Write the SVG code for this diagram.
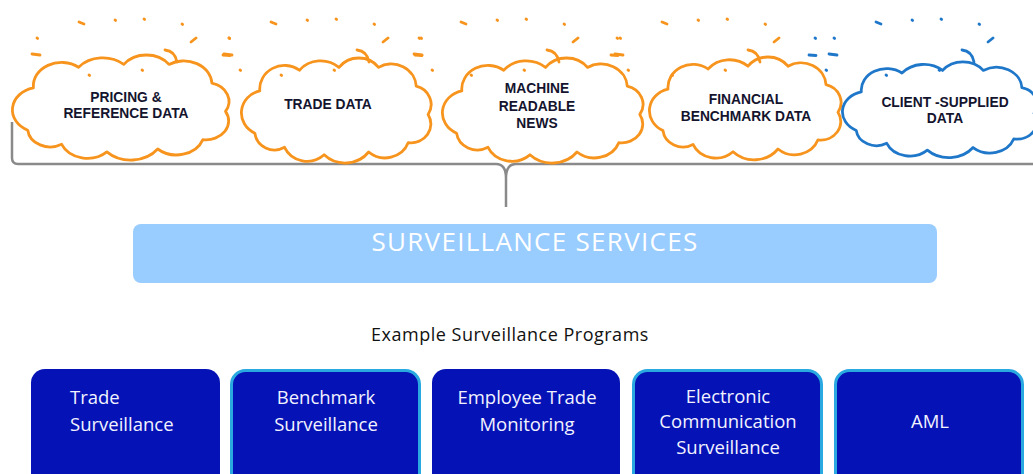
<svg xmlns="http://www.w3.org/2000/svg" xmlns:xlink="http://www.w3.org/1999/xlink" width="1033" height="474" viewBox="0 0 1033 474">
<style>
.cloud{fill:#fff;stroke-width:2.8;stroke-linejoin:round}
.orange{stroke:#F7941D;color:#F7941D}
.blue{stroke:#1F77C9;color:#1F77C9}
.mk{fill:none;stroke:currentColor;stroke-width:2.8;stroke-linecap:round}
.ctext{font-family:"Liberation Sans",Arial,sans-serif;font-weight:bold;font-size:13.8px;fill:#14142E;stroke:none;text-anchor:middle}
.box{fill:#0512B5}
.bord{stroke:#2AA9E0;stroke-width:3}
.btext{font-family:"Open Sans",sans-serif;font-size:18.5px;fill:#F2F2FF;text-anchor:middle}
.btext-l{font-family:"Open Sans",sans-serif;font-size:18.5px;fill:#F2F2FF;text-anchor:start}
.bracket{fill:none;stroke:#8A8A8A;stroke-width:2.5}
</style>
<defs>
<path id="cloudShape" vector-effect="non-scaling-stroke" d="M -80,-20 A 25,25 0 0 1 -40,-42 A 28,28 0 0 1 0,-45 A 25,25 0 0 1 40,-45 A 25,25 0 0 1 78,-25 A 20,20 0 0 1 90,5 A 20,20 0 0 1 70,35 A 25,25 0 0 1 30,45 A 30,30 0 0 1 -15,48 A 25,25 0 0 1 -55,40 A 20,20 0 0 1 -85,25 A 24,24 0 0 1 -80,-20 Z"/>
<g id="sparkMain" class="mk">
<path d="M79,22 L84,24"/>
<path d="M115,20 l0.6,0.4"/>
<path d="M144,19 l0.6,0.4"/>
<path d="M182,24 l0.6,0.4"/>
<path d="M191,42 L196,38"/>
<path d="M37,38 l0.6,0.4"/>
<path d="M32,54 L40,55"/>
<path d="M89,75 l0.6,0.4"/>
<path d="M142,70 l0.6,0.4"/>
<path d="M165,50 Q175,51 177,62"/>
</g>
<g id="sparkRight" class="mk">
<path d="M229,38 l0.6,0.4"/>
<path d="M223,55 L230,55.5"/>
<path d="M240,70 l0.6,0.4"/>
</g>
</defs>

<g id="connectors">
<path class="bracket" d="M 12,122 L 12,158 Q 12,164 18,164 L 496,164 Q 506,164 506,178 L 506,207 M 506,178 Q 506,164 516,164 L 1033,164"/>
</g>

<g id="cloud-pricing" class="orange">
<use href="#cloudShape" class="cloud" transform="translate(123.8,106.7) scale(1.13,0.94)"/>
<use href="#sparkMain"/>
<use href="#sparkRight"/>
<text class="ctext" x="126" y="102">PRICING &amp;</text>
<text class="ctext" x="126" y="118">REFERENCE DATA</text>
</g>

<g id="cloud-trade" class="orange">
<use href="#cloudShape" class="cloud" transform="translate(339,109.7) scale(0.99,0.94)"/>
<use href="#sparkMain" transform="translate(192,0)"/>
<use href="#sparkRight" transform="translate(192,0)"/>
<text class="ctext" x="328" y="109">TRADE DATA</text>
</g>

<g id="cloud-news" class="orange">
<use href="#cloudShape" class="cloud" transform="translate(545.6,109.7) scale(1.047,0.94)"/>
<use href="#sparkMain" transform="translate(382,0)"/>
<use href="#sparkRight" transform="translate(388,0)"/>
<text class="ctext" x="537" y="93">MACHINE</text>
<text class="ctext" x="537" y="111">READABLE</text>
<text class="ctext" x="537" y="128">NEWS</text>
</g>

<g id="cloud-benchmark" class="orange">
<use href="#cloudShape" class="cloud" transform="translate(748,107.6) scale(1.0,0.92)"/>
<use href="#sparkMain" transform="translate(583,0)"/>
<use href="#sparkRight" transform="translate(586,0)" style="color:#1F77C9"/>
<text class="ctext" x="746" y="104">FINANCIAL</text>
<text class="ctext" x="746" y="121">BENCHMARK DATA</text>
</g>

<g id="cloud-client" class="blue">
<use href="#cloudShape" class="cloud" transform="translate(942.6,109) scale(1.016,0.857)"/>
<use href="#sparkMain" transform="translate(797,0)"/>
<text class="ctext" x="945" y="107">CLIENT -SUPPLIED</text>
<text class="ctext" x="945" y="123">DATA</text>
</g>

<g id="surveillance-services">
<rect x="133" y="224" width="804" height="59" rx="8" fill="#99CCFF"/>
<text x="535" y="251" font-family="Open Sans, sans-serif" font-size="26px" letter-spacing="1.3" fill="#FFFFFF" text-anchor="middle">SURVEILLANCE SERVICES</text>
</g>

<g id="programs-label">
<text x="510" y="341" font-family="Open Sans, sans-serif" font-size="18px" letter-spacing="0.5" fill="#111111" text-anchor="middle">Example Surveillance Programs</text>
</g>

<g id="box-trade">
<rect class="box" x="31" y="369" width="189" height="120" rx="14"/>
<text class="btext-l" x="70" y="404">Trade</text>
<text class="btext-l" x="70" y="431">Surveillance</text>
</g>

<g id="box-benchmark">
<rect class="box bord" x="231.5" y="370.5" width="188" height="120" rx="14"/>
<text class="btext" x="326" y="404">Benchmark</text>
<text class="btext" x="326" y="431">Surveillance</text>
</g>

<g id="box-employee">
<rect class="box" x="432" y="369" width="188" height="120" rx="14"/>
<text class="btext" x="527" y="404">Employee Trade</text>
<text class="btext" x="527" y="431">Monitoring</text>
</g>

<g id="box-ecomm">
<rect class="box bord" x="633.5" y="370.5" width="188" height="120" rx="14"/>
<text class="btext" x="728" y="403">Electronic</text>
<text class="btext" x="728" y="428">Communication</text>
<text class="btext" x="728" y="454">Surveillance</text>
</g>

<g id="box-aml">
<rect class="box bord" x="835.5" y="370.5" width="187" height="120" rx="14"/>
<text class="btext" x="930" y="428">AML</text>
</g>
</svg>
